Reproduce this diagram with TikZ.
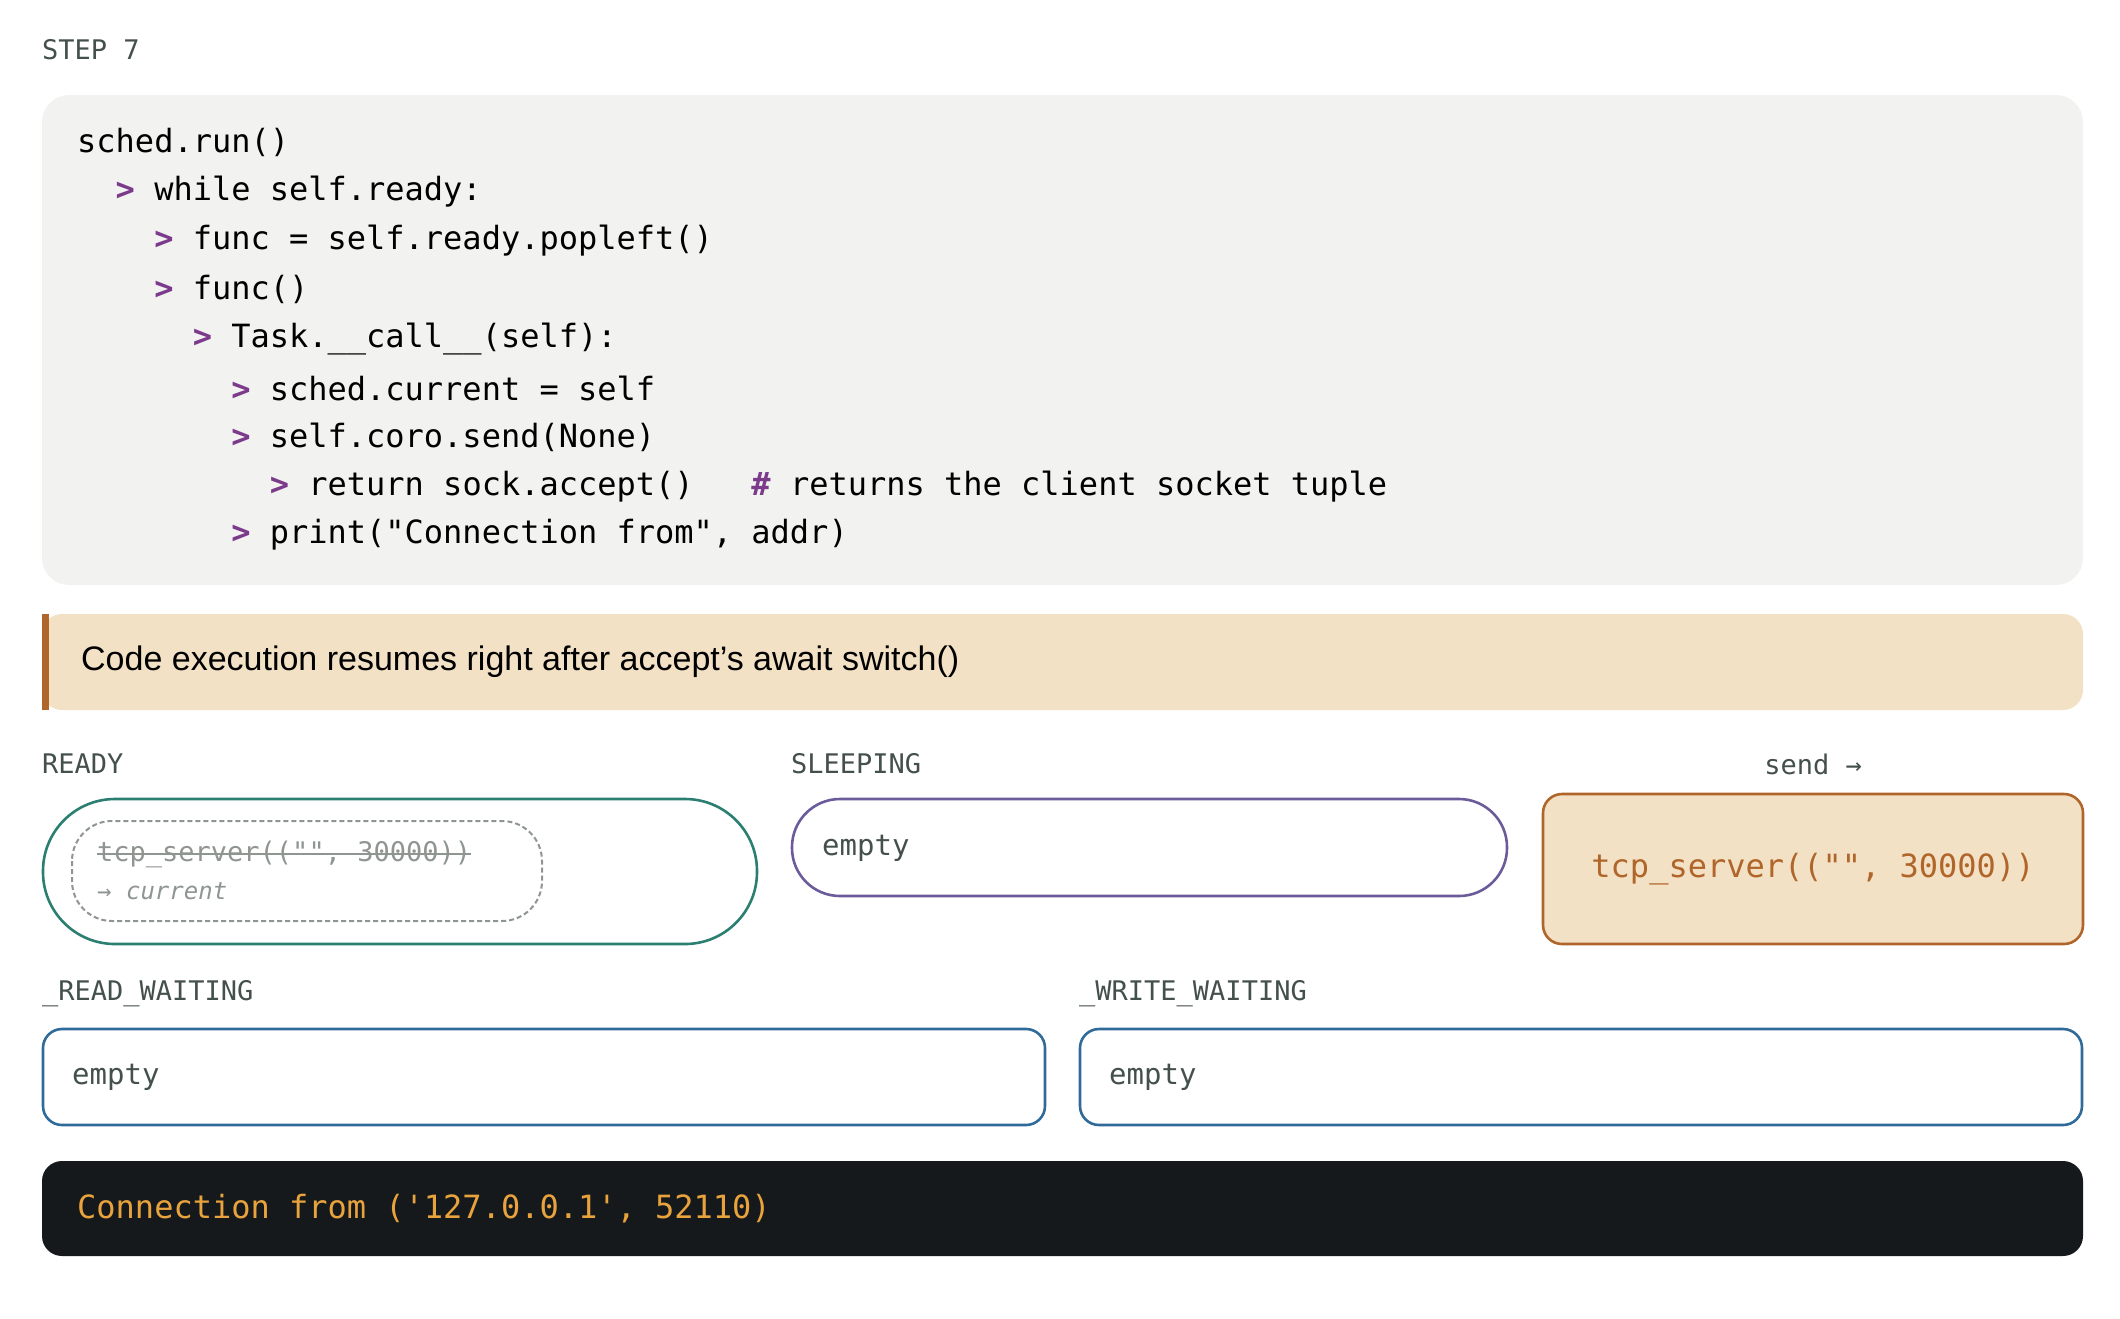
\documentclass[tikz,border=0pt]{standalone}
\usepackage{fontspec}
\setmainfont{Liberation Sans}
\setmonofont{DejaVu Sans Mono}
\begin{document}
\definecolor{codebg}{HTML}{F2F2F1}
\definecolor{peach}{HTML}{F3E1C5}
\definecolor{brown}{HTML}{B0652A}
\definecolor{purp}{HTML}{7B3A8A}
\definecolor{teal}{HTML}{2A7F70}
\definecolor{vio}{HTML}{6B5B9A}
\definecolor{blu}{HTML}{2F6A98}
\definecolor{lab}{HTML}{44504C}
\definecolor{gry}{HTML}{8F9591}
\definecolor{term}{HTML}{16191C}
\definecolor{orng}{HTML}{E8A33D}
\begin{tikzpicture}[x=1pt,y=-1pt,
  lbl/.style={anchor=west,inner sep=0,font=\fontsize{27}{30}\selectfont\ttfamily,text=lab},
  code/.style={anchor=west,inner sep=0,font=\fontsize{32}{36}\selectfont\ttfamily,text=black},
  emp/.style={anchor=west,inner sep=0,font=\fontsize{29}{32}\selectfont\ttfamily,text=lab},
  box/.style={line width=2.6pt}]
\useasboundingbox (0,0) rectangle (2120,1318);
\newcommand{\gt}{\textcolor{purp}{\textbf{>}}}
\node[lbl] (step) at (42,50) {STEP 7};
\fill[codebg,rounded corners=27] (42,95) rectangle (2083,585);
\node[code] (c1) at (77,142) {sched.run()};
\node[code] (c2) at (77,192) {\ \ \gt{} while self.ready:};
\node[code] (c3) at (77,241) {\ \ \ \ \gt{} func = self.ready.popleft()};
\node[code] (c4) at (77,289) {\ \ \ \ \gt{} func()};
\node[code] (c5) at (77,339) {\ \ \ \ \ \ \gt{} Task.\_\_call\_\_(self):};
\node[code] (c6) at (77,388) {\ \ \ \ \ \ \ \ \gt{} sched.current = self};
\node[code] (c7) at (77,437) {\ \ \ \ \ \ \ \ \gt{} self.coro.send(None)};
\node[code] (c8) at (77,487) {\ \ \ \ \ \ \ \ \ \ \gt{} return sock.accept()\ \ \ \textcolor{purp}{\textbf{\#}} returns the client socket tuple};
\node[code] (c9) at (77,535) {\ \ \ \ \ \ \ \ \gt{} print("Connection from", addr)};
\fill[peach,rounded corners=20] (42,614) rectangle (2083,710);
\fill[brown] (42,614) rectangle (49,710);
\node[anchor=west,inner sep=0,font=\fontsize{34}{38}\selectfont] (note) at (81,662) {Code execution resumes right after accept's await switch()};
\node[lbl] (lr) at (42,764) {READY};
\node[lbl] (ls) at (791,764) {SLEEPING};
\node[lbl,anchor=center] (lsend) at (1813,764) {send →};
\draw[box,teal,rounded corners=72] (43,799) rectangle (757,944);
\draw[gry,line width=2pt,dashed,dash pattern=on 5pt off 3pt,rounded corners=40] (72,821) rectangle (542,921);
\node[anchor=west,inner sep=0,font=\fontsize{27}{30}\selectfont\ttfamily,text=gry] (ts) at (97,854) {tcp\_server(("", 30000))};
\draw[gry,line width=2.5pt] (ts.west) -- (ts.east);
\node[anchor=west,inner sep=0,font=\fontsize{24}{28}\selectfont\ttfamily\itshape,text=gry] (cur) at (97,891) {→ current};
\draw[box,vio,rounded corners=48] (792,799) rectangle (1507,896);
\node[emp] (se) at (822,848) {empty};
\draw[box,brown,fill=peach,rounded corners=19] (1543,794) rectangle (2083,944);
\node[anchor=center,inner sep=0,font=\fontsize{32}{36}\selectfont\ttfamily,text=brown] (cur2) at (1813,869) {tcp\_server(("", 30000))};
\node[lbl] (lrw) at (42,994) {\_READ\_WAITING};
\node[lbl] (lww) at (1079,994) {\_WRITE\_WAITING};
\draw[box,blu,rounded corners=19] (43,1029) rectangle (1045,1125);
\node[emp] (re) at (72,1077) {empty};
\draw[box,blu,rounded corners=19] (1080,1029) rectangle (2082,1125);
\node[emp] (we) at (1109,1077) {empty};
\fill[term,rounded corners=20] (42,1161) rectangle (2083,1256);
\node[code,text=orng] (out) at (77,1209) {Connection from ('127.0.0.1', 52110)};
\end{tikzpicture}
\end{document}
